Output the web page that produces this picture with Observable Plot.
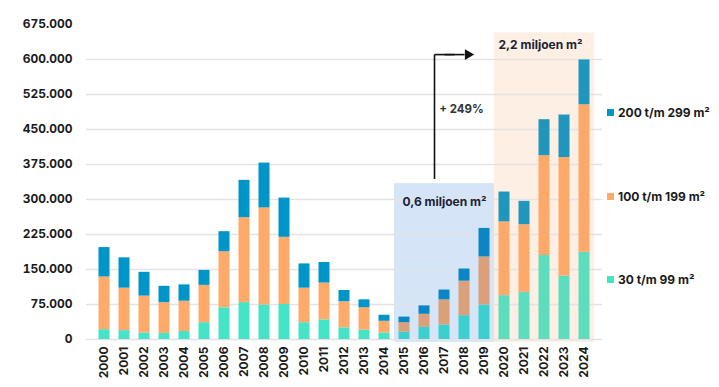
<!DOCTYPE html>
<html>
<head>
<meta charset="utf-8">
<script src="https://cdn.jsdelivr.net/npm/d3@7"></script>
<script src="https://cdn.jsdelivr.net/npm/@observablehq/plot@0.6"></script>
<style>
  html, body { margin: 0; padding: 0; background: #fff; }
  #wrap { position: relative; width: 719px; height: 387px; font-family: Inter, "Noto Sans", sans-serif; }
  .leg { position: absolute; left: 607px; font-size: 12px; font-weight: 700; color: #1a1a1a; white-space: nowrap; display: flex; align-items: center; }
  .leg span.sw { display: inline-block; width: 7px; height: 7px; margin-right: 4px; }
</style>
</head>
<body>
<div id="wrap"></div>
<script>
const years = ["2000","2001","2002","2003","2004","2005","2006","2007","2008","2009","2010","2011","2012","2013","2014","2015","2016","2017","2018","2019","2020","2021","2022","2023","2024"];
const seriesNames = ["30 t/m 99 m²", "100 t/m 199 m²", "200 t/m 299 m²"];
const small  = [21000,19000,14000,13000,17000,36000,68000,79000,74000,75000,36000,42000,25000,20000,14000,16000,26000,31000,51000,74000,94000,101000,180000,136000,187000];
const medium = [113000,91000,79000,66000,65000,80000,120000,182000,208000,144000,74000,79000,56000,48000,25000,20000,28000,54000,74000,103000,158000,145000,214000,254000,316000];
const large  = [63000,65000,51000,35000,35000,32000,43000,80000,96000,84000,52000,44000,24000,17000,13000,12000,18000,21000,26000,61000,64000,50000,77000,91000,96000];
const yTicks = [0,75000,150000,225000,300000,375000,450000,525000,600000,675000];
const gridTicks = [0,75000,150000,225000,300000,375000,450000,525000,600000];

const periodA = ["2015","2016","2017","2018","2019"];
const periodB = ["2020","2021","2022","2023","2024"];
const periodAText = "0,6 miljoen m²";
const periodBText = "2,2 miljoen m²";
const growthText = "+ 249%";

const palette = {
  normal: ["#45e3c8", "#fdaa6b", "#0095c8"],
  a: ["#3bcfd0", "#d9a07a", "#0a86c6"],
  b: ["#5edcbe", "#fca96a", "#2196bd"]
};
const period = y => periodA.includes(y) ? "a" : periodB.includes(y) ? "b" : "normal";

const rows = years.flatMap((year, i) => [
  {year, series: seriesNames[0], si: 0, value: small[i]},
  {year, series: seriesNames[1], si: 1, value: medium[i]},
  {year, series: seriesNames[2], si: 2, value: large[i]}
]);

const nl = d3.formatLocale({decimal: ",", thousands: ".", grouping: [3], currency: ["€", ""]});
const fmt = nl.format(",");

const font = "Inter, 'Noto Sans', sans-serif";

const chart = Plot.plot({
  width: 719,
  height: 387,
  marginLeft: 86,
  marginRight: 117,
  marginTop: 24,
  marginBottom: 48,
  style: {fontFamily: font, background: "transparent"},
  x: {type: "band", domain: years, padding: 0, label: null},
  y: {domain: [0, 675000], label: null},
  marks: [
    Plot.barY(periodA, {x: d => d, y1: -6000, y2: 334000, fill: "#d6e4f7", inset: 0}),
    Plot.barY(periodB, {x: d => d, y1: -6000, y2: 657000, fill: "#fdefe4", inset: 0}),
    Plot.ruleY(gridTicks, {stroke: "#e3e3e3", strokeWidth: 1.5}),
    Plot.barY(rows, {x: "year", y: "value", z: "series", fill: d => palette[period(d.year)][d.si], insetLeft: 4.5, insetRight: 4.5}),
    Plot.axisY({ticks: yTicks, tickFormat: fmt, tickSize: 0, tickPadding: 14, fontSize: 12, fontWeight: 700, fill: "#1a1a1a"}),
    Plot.axisX({tickRotate: -90, tickSize: 0, tickPadding: 7, fontSize: 12, fontWeight: 700, fill: "#1a1a1a"}),
    Plot.link([0], {x1: () => "2017", x2: () => "2017", y1: 344000, y2: 610500, dx: -10, stroke: "#111", strokeWidth: 1.6}),
    Plot.link([0], {x1: () => "2017", x2: () => "2018", y1: 610500, y2: 610500, dx: -10, stroke: "#111", strokeWidth: 1.6}),
    Plot.link([0], {x1: () => "2017", x2: () => "2018", y1: 610500, y2: 610500, dx: 0, stroke: "#111", strokeWidth: 1.6}),
    Plot.dot([0], {x: () => "2018", y: 610500, dx: 3.5, symbol: "triangle", r: 4, rotate: 90, fill: "#111", stroke: null}),
    Plot.text([periodAText], {x: () => "2017", y: 294000, text: d => d, fontSize: 12, fontWeight: 700, fill: "#1c2236"}),
    Plot.text([periodBText], {x: () => "2022", y: 630000, text: d => d, dx: -4, fontSize: 12, fontWeight: 700, fill: "#1c2236"}),
    Plot.text([growthText], {x: () => "2018", y: 493000, text: d => d, dx: -3, fontSize: 11.5, fontWeight: 700, fill: "#333"})
  ]
});

const wrap = document.getElementById("wrap");
wrap.appendChild(chart);

const legendItems = [
  {name: seriesNames[2], color: palette.normal[2], top: 105},
  {name: seriesNames[1], color: palette.normal[1], top: 189},
  {name: seriesNames[0], color: palette.normal[0], top: 272}
];
for (const item of legendItems) {
  const div = document.createElement("div");
  div.className = "leg";
  div.style.top = item.top + "px";
  const sw = document.createElement("span");
  sw.className = "sw";
  sw.style.background = item.color;
  div.appendChild(sw);
  div.appendChild(document.createTextNode(item.name));
  wrap.appendChild(div);
}
</script>
</body>
</html>
